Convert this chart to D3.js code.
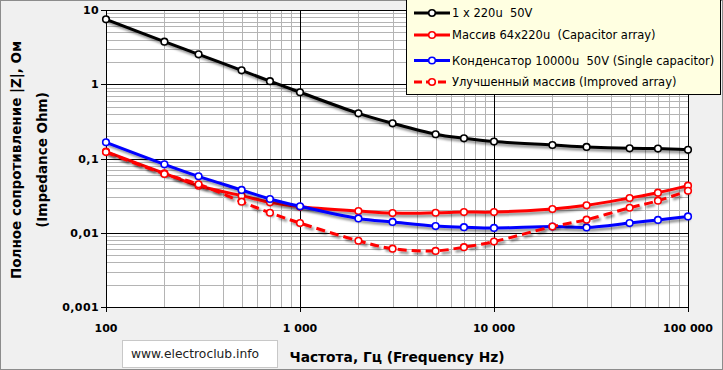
<!DOCTYPE html>
<html lang="ru">
<head>
    <meta charset="utf-8">
    <title>Impedance chart</title>
    <script type="text/javascript" src="https://d3js.org/d3.v7.min.js"></script>
    <style type="text/css">
        body { margin: 0; background: #f0f0f0; }
        svg { display: block; font-family: "DejaVu Sans", sans-serif; }
    </style>
</head>
<body>
<div class="chart"></div>

<script type="text/javascript">

    // Frequencies (Hz)
    var freqs = [100, 200, 300, 500, 700, 1000, 2000, 3000, 5000, 7000, 10000, 20000, 30000, 50000, 70000, 100000];

    // Impedance values, Ohm
    var single220 = [7.5, 3.74, 2.53, 1.54, 1.10, 0.78, 0.406, 0.298, 0.212, 0.187, 0.169, 0.152, 0.143, 0.137, 0.136, 0.131];
    var array64 = [0.124, 0.063, 0.043, 0.0316, 0.0257, 0.0224, 0.0196, 0.0184, 0.0186, 0.019, 0.019, 0.0209, 0.0234, 0.0294, 0.0346, 0.0431];
    var cap10000 = [0.165, 0.0835, 0.0575, 0.0377, 0.0285, 0.0227, 0.0156, 0.0140, 0.0123, 0.0119, 0.0116, 0.0121, 0.0118, 0.0135, 0.0149, 0.0166];
    var improved = [0.122, 0.062, 0.045, 0.0262, 0.0186, 0.0135, 0.0078, 0.0061, 0.0057, 0.0064, 0.0076, 0.0121, 0.0150, 0.0217, 0.0270, 0.0368];

    var seriesNames = ["1 x 220u  50V", "Массив 64x220u  (Capacitor array)", "Конденсатор 10000u  50V (Single capacitor)", "Улучшенный массив (Improved array)"];

    var xTicks = [100, 1000, 10000, 100000];
    var xTickLabels = ["100", "1 000", "10 000", "100 000"];
    var yTicks = [10, 1, 0.1, 0.01, 0.001];
    var yTickLabels = ["10", "1", "0,1", "0,01", "0,001"];

    var series = [
        {name: seriesNames[0], values: single220, color: "#000000", dash: null},
        {name: seriesNames[1], values: array64, color: "#ff0000", dash: null},
        {name: seriesNames[2], values: cap10000, color: "#0000ff", dash: null},
        {name: seriesNames[3], values: improved, color: "#ff0000", dash: "9,5"}
    ];

    var width = 723, height = 370;
    var plot = {left: 106, right: 688, top: 10, bottom: 307};

    var svg = d3.select(".chart")
        .append("svg")
        .attr("width", width)
        .attr("height", height);

    // drop shadow for lines
    var defs = svg.append("defs");
    var f = defs.append("filter").attr("id", "shadow")
        .attr("x", "-5%").attr("y", "-20%").attr("width", "110%").attr("height", "140%");
    f.append("feDropShadow")
        .attr("dx", 2).attr("dy", 2.5).attr("stdDeviation", 1.3)
        .attr("flood-color", "#000").attr("flood-opacity", 0.45);

    // background + frame
    svg.append("rect")
        .attr("x", 0.5).attr("y", 0.5)
        .attr("width", width - 1).attr("height", height - 1)
        .attr("fill", "#f0f0f0")
        .attr("stroke", "#8c8c8c");

    var x = d3.scaleLog().domain([100, 100000]).range([plot.left, plot.right]);
    var y = d3.scaleLog().domain([0.001, 10]).range([plot.bottom, plot.top]);

    svg.append("rect")
        .attr("x", plot.left).attr("y", plot.top)
        .attr("width", plot.right - plot.left).attr("height", plot.bottom - plot.top)
        .attr("fill", "#ffffff");

    // minor grid
    var minorX = [], minorY = [];
    [100, 1000, 10000].forEach(function (d) {
        for (var k = 2; k <= 9; k++) minorX.push(d * k);
    });
    [0.001, 0.01, 0.1, 1].forEach(function (d) {
        for (var k = 2; k <= 9; k++) minorY.push(d * k);
    });

    var grid = svg.append("g").attr("class", "grid");
    grid.selectAll(".vminor").data(minorX).enter().append("line")
        .attr("x1", function (d) { return Math.round(x(d)) + 0.5; })
        .attr("x2", function (d) { return Math.round(x(d)) + 0.5; })
        .attr("y1", plot.top).attr("y2", plot.bottom)
        .attr("stroke", "#b4b4b4");
    grid.selectAll(".hminor").data(minorY).enter().append("line")
        .attr("y1", function (d) { return Math.round(y(d)) + 0.5; })
        .attr("y2", function (d) { return Math.round(y(d)) + 0.5; })
        .attr("x1", plot.left).attr("x2", plot.right)
        .attr("stroke", "#b4b4b4");

    // major grid (black)
    grid.selectAll(".vmajor").data(xTicks).enter().append("line")
        .attr("x1", function (d) { return Math.round(x(d)) + 0.5; })
        .attr("x2", function (d) { return Math.round(x(d)) + 0.5; })
        .attr("y1", plot.top).attr("y2", plot.bottom + 5)
        .attr("stroke", "#000");
    grid.selectAll(".hmajor").data(yTicks).enter().append("line")
        .attr("y1", function (d) { return Math.round(y(d)) + 0.5; })
        .attr("y2", function (d) { return Math.round(y(d)) + 0.5; })
        .attr("x1", plot.left - 5).attr("x2", plot.right)
        .attr("stroke", "#000");

    // tick labels
    svg.selectAll(".xlab").data(xTicks).enter().append("text")
        .attr("x", function (d) { return x(d); })
        .attr("y", 332)
        .attr("text-anchor", "middle")
        .attr("font-size", "11px")
        .attr("font-weight", "bold")
        .text(function (d, i) { return xTickLabels[i]; });

    svg.selectAll(".ylab").data(yTicks).enter().append("text")
        .attr("x", plot.left - 7)
        .attr("y", function (d) { return y(d) + 4; })
        .attr("text-anchor", "end")
        .attr("font-size", "11px")
        .attr("font-weight", "bold")
        .attr("letter-spacing", "0.4px")
        .text(function (d, i) { return yTickLabels[i]; });

    // axis titles
    var yt = svg.append("text")
        .attr("transform", "translate(29,160) rotate(-90)")
        .attr("text-anchor", "middle")
        .attr("font-size", "13.5px")
        .attr("font-weight", "bold");
    yt.append("tspan").attr("x", 0).attr("dy", -7.6).text("Полное сопротивление |Z|, Ом");
    yt.append("tspan").attr("x", 0).attr("dy", 25.5).text("(Impedance Ohm)");

    svg.append("text")
        .attr("x", 397).attr("y", 362)
        .attr("text-anchor", "middle")
        .attr("font-size", "13.8px")
        .attr("font-weight", "bold")
        .text("Частота, Гц (Frequency Hz)");

    // watermark box
    svg.append("rect")
        .attr("x", 122.5).attr("y", 340.5)
        .attr("width", 155).attr("height", 27)
        .attr("fill", "#fff").attr("stroke", "#c8c8c8");
    svg.append("text")
        .attr("x", 131).attr("y", 358)
        .attr("font-size", "12.3px")
        .attr("fill", "#222")
        .text("www.electroclub.info");

    // lines
    var line = d3.line()
        .x(function (d) { return x(d[0]); })
        .y(function (d) { return y(d[1]); })
        .curve(d3.curveCatmullRom.alpha(0.5));

    series.forEach(function (s) {
        var pts = freqs.map(function (f, i) { return [f, s.values[i]]; });
        var g = svg.append("g");
        g.append("path")
            .datum(pts)
            .attr("d", line)
            .attr("fill", "none")
            .attr("stroke", s.color)
            .attr("stroke-width", 3)
            .attr("stroke-dasharray", s.dash)
            .attr("filter", "url(#shadow)");
        g.selectAll("circle").data(pts).enter().append("circle")
            .attr("cx", function (d) { return x(d[0]); })
            .attr("cy", function (d) { return y(d[1]); })
            .attr("r", 3.3)
            .attr("fill", "#fff")
            .attr("stroke", s.color)
            .attr("stroke-width", 1.6);
    });

    // legend
    var lg = svg.append("g");
    lg.append("rect")
        .attr("x", 406.5).attr("y", -1)
        .attr("width", 314).attr("height", 95.5)
        .attr("fill", "#ffffe1").attr("stroke", "#000");
    var legY = [13, 35, 60.5, 82];
    series.forEach(function (s, i) {
        lg.append("line")
            .attr("x1", 414).attr("x2", 450)
            .attr("y1", legY[i]).attr("y2", legY[i])
            .attr("stroke", s.color).attr("stroke-width", 3)
            .attr("stroke-dasharray", s.dash ? "8,4" : null);
        lg.append("circle")
            .attr("cx", 432).attr("cy", legY[i]).attr("r", 3.3)
            .attr("fill", "#fff").attr("stroke", s.color).attr("stroke-width", 1.6);
        lg.append("text")
            .attr("x", 452).attr("y", legY[i] + 4)
            .attr("font-size", "11.5px")
            .style("white-space", "pre")
            .text(s.name);
    });

</script>
</body>
</html>
